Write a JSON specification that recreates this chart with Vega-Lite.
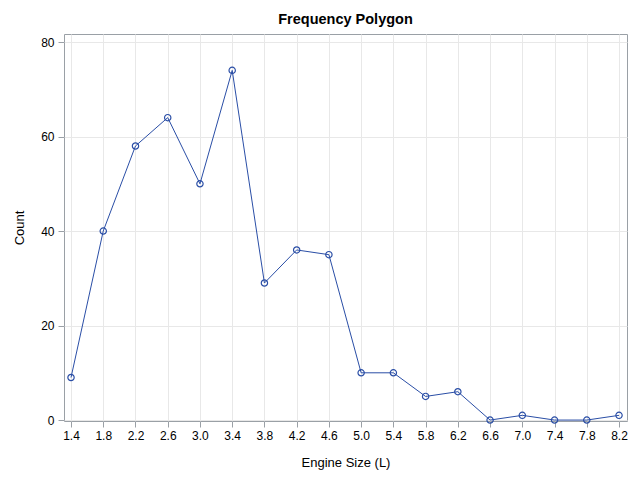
{
  "$schema": "https://vega.github.io/schema/vega-lite/v6.json",
  "width": 563,
  "height": 387,
  "autosize": {"type": "none"},
  "padding": {"left": 64, "top": 34, "right": 12, "bottom": 59},
  "background": "white",
  "title": {"text": "Frequency Polygon", "fontSize": 14.5, "fontWeight": "bold", "font": "Liberation Sans", "color": "#000000", "offset": 7},
  "config": {
    "view": {"stroke": "#9aa0a6", "strokeWidth": 1},
    "axis": {"labelFont": "Liberation Sans", "titleFont": "Liberation Sans", "labelFontSize": 12, "titleFontSize": 13, "titleFontWeight": "normal", "labelColor": "#000000", "titleColor": "#000000", "gridColor": "#e8e8e8", "tickColor": "#9aa0a6", "domain": false, "tickSize": 6}
  },
  "data": {"values": [
    {"x": 1.4, "count": 9}, {"x": 1.8, "count": 40}, {"x": 2.2, "count": 58}, {"x": 2.6, "count": 64},
    {"x": 3.0, "count": 50}, {"x": 3.4, "count": 74}, {"x": 3.8, "count": 29}, {"x": 4.2, "count": 36},
    {"x": 4.6, "count": 35}, {"x": 5.0, "count": 10}, {"x": 5.4, "count": 10}, {"x": 5.8, "count": 5},
    {"x": 6.2, "count": 6}, {"x": 6.6, "count": 0}, {"x": 7.0, "count": 1}, {"x": 7.4, "count": 0},
    {"x": 7.8, "count": 0}, {"x": 8.2, "count": 1}
  ]},
  "encoding": {
    "x": {"field": "x", "type": "quantitative", "title": "Engine Size (L)",
      "scale": {"domain": [1.313, 8.299], "nice": false, "zero": false},
      "axis": {"values": [1.4,1.8,2.2,2.6,3.0,3.4,3.8,4.2,4.6,5.0,5.4,5.8,6.2,6.6,7.0,7.4,7.8,8.2], "format": ".1f", "labelPadding": 3, "titlePadding": 15}},
    "y": {"field": "count", "type": "quantitative", "title": "Count",
      "scale": {"domain": [-0.2, 81.7], "nice": false, "zero": false},
      "axis": {"values": [0, 20, 40, 60, 80], "labelPadding": 4, "titlePadding": 14}}
  },
  "layer": [
    {"mark": {"type": "line", "color": "#2a4ea6", "strokeWidth": 1}},
    {"mark": {"type": "point", "shape": "circle", "filled": false, "color": "#2a4ea6", "strokeWidth": 1.2, "size": 40, "opacity": 1}}
  ]
}
